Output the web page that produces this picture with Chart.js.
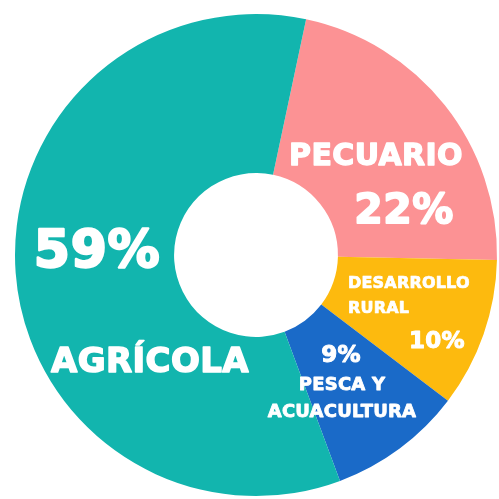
<!DOCTYPE html>
<html>
<head>
<meta charset="utf-8">
<script src="https://cdn.jsdelivr.net/npm/chart.js@4"></script>
<style>
  html, body { margin: 0; padding: 0; background: #fff; }
  canvas { display: block; }
</style>
</head>
<body>
<canvas id="sectores" width="499" height="499"></canvas>
<script>
// Datos del gráfico
const categorias = ['Pecuario', 'Desarrollo rural', 'Pesca y acuacultura', 'Agrícola'];
const porcentajes = [22, 10, 9, 59];
const colores = ['#FC9294', '#FDBA0E', '#1A6AC8', '#12B5AE'];

// Etiquetas de texto por sector (lineas, tamaño, desplazamiento respecto al centro)
const etiquetas = [
    [
        { text: 'PECUARIO', size: 30, dx: 120, dy: -90, align: 'center' },
        { text: '22%', size: 41, dx: 148, dy: -32, align: 'center' }
    ],
    [
        { text: 'DESARROLLO', size: 16, dx: 92, dy: 33, align: 'left' },
        { text: 'RURAL', size: 16, dx: 92, dy: 58, align: 'left' },
        { text: '10%', size: 23, dx: 181, dy: 93, align: 'center' }
    ],
    [
        { text: '9%', size: 23, dx: 85, dy: 107, align: 'center' },
        { text: 'PESCA Y', size: 18, dx: 86, dy: 135, align: 'center' },
        { text: 'ACUACULTURA', size: 18, dx: 86, dy: 162, align: 'center' }
    ],
    [
        { text: '59%', size: 52, dx: -159, dy: 12, align: 'center' },
        { text: 'AGRÍCOLA', size: 34, dx: -106, dy: 117, align: 'center' }
    ]
];

const textoSectores = {
    id: 'textoSectores',
    afterDatasetsDraw(chart) {
        const ctx = chart.ctx;
        const meta = chart.getDatasetMeta(0);
        const arc0 = meta.data[0];
        const cx = arc0.x, cy = arc0.y;
        const escala = arc0.outerRadius / 241;
        ctx.save();
        ctx.fillStyle = '#ffffff';
        ctx.strokeStyle = '#ffffff';
        ctx.lineJoin = 'round';
        ctx.textBaseline = 'alphabetic';
        etiquetas.forEach(function (lineas, i) {
            if (!meta.data[i]) return;
            lineas.forEach(function (l) {
                const s = l.size * escala;
                ctx.font = 'bold ' + s + 'px "DejaVu Sans"';
                ctx.letterSpacing = (s * 0.012) + 'px';
                ctx.lineWidth = s * 0.045;
                ctx.textAlign = l.align;
                const x = cx + l.dx * escala, y = cy + l.dy * escala;
                ctx.fillText(l.text, x, y);
                ctx.strokeText(l.text, x, y);
            });
        });
        ctx.restore();
    }
};

new Chart(document.getElementById('sectores').getContext('2d'), {
    type: 'doughnut',
    data: {
        labels: categorias,
        datasets: [{
            data: porcentajes,
            backgroundColor: colores,
            borderWidth: 0
        }]
    },
    options: {
        responsive: false,
        animation: false,
        rotation: 12,
        cutout: '34%',
        layout: { padding: { left: 15, right: 2, top: 14, bottom: 3 } },
        plugins: {
            legend: { display: false },
            tooltip: { enabled: false }
        }
    },
    plugins: [textoSectores]
});
</script>
</body>
</html>
